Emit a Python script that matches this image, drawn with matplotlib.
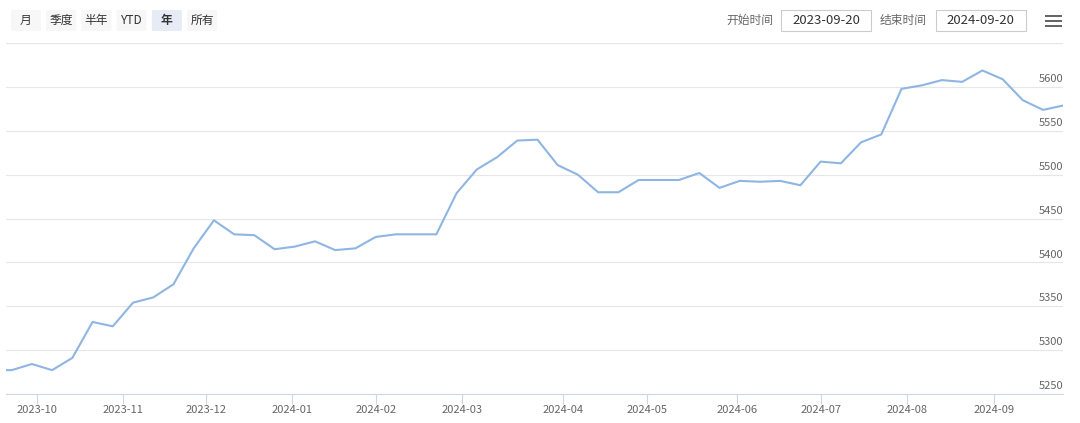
import numpy as np
import matplotlib.pyplot as plt
import matplotlib.transforms as mtransforms
from matplotlib.patches import Rectangle, FancyBboxPatch

plt.rcParams['font.family'] = ['Noto Sans CJK SC', 'DejaVu Sans']

# weekly quotes (first one sits just before the visible range)
dates = ['2023-09-15', '2023-09-22', '2023-09-29', '2023-10-07', '2023-10-14',
         '2023-10-21', '2023-10-28', '2023-11-05', '2023-11-12', '2023-11-19',
         '2023-11-26', '2023-12-04', '2023-12-11', '2023-12-18', '2023-12-25',
         '2024-01-02', '2024-01-09', '2024-01-17', '2024-01-24', '2024-02-01',
         '2024-02-08', '2024-02-15', '2024-02-22', '2024-02-28', '2024-03-06',
         '2024-03-12', '2024-03-18', '2024-03-24', '2024-03-30', '2024-04-06',
         '2024-04-14', '2024-04-21', '2024-04-28', '2024-05-05', '2024-05-12',
         '2024-05-19', '2024-05-26', '2024-06-02', '2024-06-10', '2024-06-17',
         '2024-06-24', '2024-07-01', '2024-07-09', '2024-07-16', '2024-07-23',
         '2024-07-30', '2024-08-06', '2024-08-14', '2024-08-21', '2024-08-28',
         '2024-09-04', '2024-09-09', '2024-09-15', '2024-09-20']
values = [5277, 5277, 5284, 5277, 5291, 5332, 5327, 5354, 5360, 5375,
          5416, 5448, 5432, 5431, 5415, 5418, 5424, 5414, 5416, 5429,
          5432, 5432, 5432, 5479, 5506, 5520, 5539, 5540, 5511, 5500,
          5480, 5480, 5494, 5494, 5494, 5502, 5485, 5493, 5492, 5493,
          5488, 5515, 5513, 5537, 5546, 5598, 5602, 5608, 5606, 5619,
          5609, 5585, 5574, 5579]

range_start = '2023-09-20'
range_end = '2024-09-20'
month_ticks = ['2023-10-01', '2023-11-01', '2023-12-01', '2024-01-01',
               '2024-02-01', '2024-03-01', '2024-04-01', '2024-05-01',
               '2024-06-01', '2024-07-01', '2024-08-01', '2024-09-01']
month_labels = [m[:7] for m in month_ticks]
y_grid = [5250, 5300, 5350, 5400, 5450, 5500, 5550, 5600, 5650]
y_labels = [5250, 5300, 5350, 5400, 5450, 5500, 5550, 5600]

buttons = ['月', '季度', '半年', 'YTD', '年', '所有']
selected = '年'

W, H = 1080, 423
fig = plt.figure(figsize=(W / 100, H / 100), dpi=100)
fig.patch.set_facecolor('white')


def fx(px):
    return px / W


def fy(py):
    return 1 - py / H


# ordinal x axis: points equally spaced, dates mapped by interpolation
days = np.array(dates, dtype='datetime64[D]').astype(float)
idx = np.arange(len(values))


def to_idx(d):
    return np.interp(np.array(d, dtype='datetime64[D]').astype(float), days, idx)


ax = fig.add_axes([fx(5.9), fy(393.8), fx(1063.3) - fx(5.9), fy(43.3) - fy(393.8)])
ax.plot(idx, values, color='#8fb5e3', lw=1.5, solid_joinstyle='round', zorder=3)
ax.set_xlim(to_idx(range_start), to_idx(range_end))
ax.set_ylim(5250, 5650)

for v in y_grid[1:]:
    ax.axhline(v, color='#e6e6e6', lw=0.8, zorder=1)
for s in ['top', 'left', 'right']:
    ax.spines[s].set_visible(False)
ax.spines['bottom'].set_color('#ccd6eb')
ax.spines['bottom'].set_linewidth(0.8)

ax.set_yticks([])
ax.set_xticks(to_idx(month_ticks))
ax.set_xticklabels(month_labels)
ax.tick_params(axis='x', length=7, width=0.8, color='#ccd6eb', labelcolor='#666666',
               labelsize=8, pad=1)

lbl_tr = mtransforms.offset_copy(ax.get_yaxis_transform(), fig=fig, x=0, y=2, units='points')
for v in y_labels:
    ax.text(1.0, v, str(v), transform=lbl_tr, ha='right', va='bottom',
            fontsize=8, color='#666666')

# range selector buttons
bx = 11
for b in buttons:
    bg = '#e6ebf5' if b == selected else '#f7f7f7'
    fig.add_artist(FancyBboxPatch((fx(bx), fy(31)), fx(30), fy(10) - fy(31),
                                  boxstyle='round,pad=0,rounding_size=0.002',
                                  transform=fig.transFigure, fc=bg, ec='none'))
    fig.text(fx(bx + 15), fy(20.5), b, ha='center', va='center', fontsize=8.5,
             color='#333333', fontweight='bold' if b == selected else 'normal')
    bx += 35.2

# date inputs
inputs = [('开始时间', range_start, 773, 781), ('结束时间', range_end, 926.7, 935.7)]
for name, val, tx, x0 in inputs:
    fig.text(fx(tx), fy(20.5), name, ha='right', va='center', fontsize=8.5, color='#666666')
    fig.add_artist(Rectangle((fx(x0), fy(31)), fx(90), fy(10.5) - fy(31),
                             transform=fig.transFigure, fc='white', ec='#cccccc', lw=0.8))
    fig.text(fx(x0 + 45), fy(20.5), val, ha='center', va='center', fontsize=9.5,
             color='#333333')

# menu icon
for yy in [16, 21, 26]:
    fig.add_artist(Rectangle((fx(1045), fy(yy + 1)), fx(16.5), fy(yy - 1) - fy(yy + 1),
                             transform=fig.transFigure, fc='#666666', ec='none'))

fig.savefig('out.png', dpi=100)
